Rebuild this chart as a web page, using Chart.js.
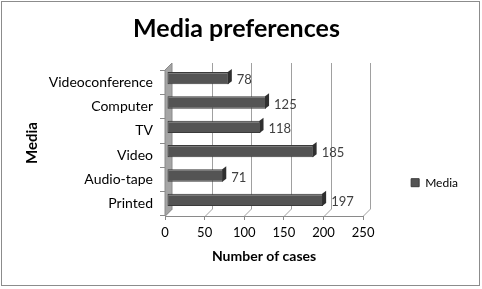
<!DOCTYPE html>
<html><head><meta charset="utf-8">
<script src="https://cdn.jsdelivr.net/npm/chart.js@4.4.1/dist/chart.umd.min.js"></script>
<style>html,body{margin:0;padding:0;background:#fff}#wrap{width:482px;height:289px}</style>
</head><body><div id="wrap"><canvas id="c" width="482" height="289"></canvas></div>
<script>
const categories = ['Printed', 'Audio-tape', 'Video', 'TV', 'Computer', 'Videoconference'];
const mediaCases = [197, 71, 185, 118, 125, 78];
const xTicks = [0, 50, 100, 150, 200, 250];

const FONT = 'Lato';
const D = 7; // depth of the fake 3D plot
const BX = 2, BY = -4; // bars sit mid-depth

const depth3d = {
  id: 'depth3d',
  beforeDraw(chart) {
    const c = chart.ctx;
    c.save();
    c.fillStyle = '#fff';
    c.fillRect(0, 0, chart.width, chart.height);
    c.strokeStyle = '#8c8c8c';
    c.lineWidth = 1;
    c.strokeRect(1.5, 1.5, chart.width - 4, chart.height - 5);
    c.restore();
  },
  beforeDatasetsDraw(chart) {
    const c = chart.ctx, a = chart.chartArea, xs = chart.scales.x;
    c.save();
    // left wall
    c.fillStyle = '#a5a5a5';
    c.beginPath();
    c.moveTo(a.left, a.top);
    c.lineTo(a.left + D, a.top - D);
    c.lineTo(a.left + D, a.bottom - D);
    c.lineTo(a.left, a.bottom);
    c.closePath();
    c.fill();
    c.strokeStyle = '#8a8a8a';
    c.stroke();
    // back gridlines and floor lines
    c.strokeStyle = '#a0a0a0';
    c.lineWidth = 1;
    xTicks.forEach(v => {
      const x = Math.round(xs.getPixelForValue(v)) + 0.5;
      c.beginPath();
      if (v > 0) {
        c.moveTo(x + D, a.top - D);
        c.lineTo(x + D, a.bottom - D);
      } else {
        c.moveTo(x + D, a.bottom - D);
      }
      c.lineTo(x, a.bottom);
      c.stroke();
    });
    c.restore();
  },
  beforeDatasetDraw(chart) {
    chart.ctx.save();
    chart.ctx.translate(BX, BY);
  },
  afterDatasetDraw(chart) {
    chart.ctx.restore();
  },
  afterDatasetsDraw(chart) {
    const c = chart.ctx;
    const meta = chart.getDatasetMeta(0);
    c.save();
    c.translate(BX, BY);
    c.font = '13px ' + FONT;
    c.textBaseline = 'middle';
    meta.data.forEach((bar, i) => {
      const h = bar.height;
      // light top edge
      c.strokeStyle = '#7a7a7a';
      c.lineWidth = 1;
      c.beginPath();
      c.moveTo(bar.base + 1, Math.round(bar.y - h / 2) + 1.5);
      c.lineTo(bar.x - 1, Math.round(bar.y - h / 2) + 1.5);
      c.stroke();
      // dark end cap
      c.fillStyle = '#2f2f2f';
      c.beginPath();
      c.moveTo(bar.x - 1, bar.y - h / 2);
      c.lineTo(bar.x + 3, bar.y - h / 2 - 3);
      c.lineTo(bar.x + 3, bar.y + h / 2 - 3);
      c.lineTo(bar.x - 1, bar.y + h / 2);
      c.closePath();
      c.fill();
      c.fillStyle = '#404040';
      c.fillText(String(mediaCases[i]), bar.x + 8, bar.y + 2);
    });
    c.restore();
  }
};

new Chart(document.getElementById('c'), {
  type: 'bar',
  data: {
    labels: categories,
    datasets: [{
      label: 'Media',
      data: mediaCases,
      backgroundColor: '#545454',
      borderColor: '#3a3a3a',
      borderWidth: 1,
      borderSkipped: false,
      categoryPercentage: 0.7,
      barPercentage: 0.72
    }]
  },
  plugins: [depth3d],
  options: {
    indexAxis: 'y',
    responsive: false,
    animation: false,
    layout: { padding: { left: 5, right: 14, top: 0, bottom: 0 } },
    scales: {
      x: {
        min: 0, max: 250,
        afterBuildTicks: s => { s.ticks = xTicks.map(v => ({ value: v })); },
        afterFit: s => { s.height = 73; },
        grid: { display: true, drawOnChartArea: false, tickLength: 4, color: '#8a8a8a' },
        border: { display: true, color: '#8a8a8a' },
        ticks: { color: '#000', font: { family: FONT, size: 13 }, padding: 5 },
        title: { display: true, text: 'Number of cases', color: '#000', font: { family: FONT, size: 14, weight: 'bold' }, padding: { top: 0, bottom: 24 } }
      },
      y: {
        reverse: true,
        afterFit: s => { s.width = 160; },
        grid: { display: true, drawOnChartArea: false, tickLength: 5, color: '#8a8a8a' },
        border: { display: true, color: '#8a8a8a' },
        ticks: { color: '#000', font: { family: FONT, size: 14 }, padding: 7 },
        title: { display: true, text: 'Media', color: '#000', font: { family: FONT, size: 15, weight: 'bold' }, padding: { top: 18, bottom: 4 } }
      },
      gap: {
        type: 'linear',
        axis: 'y',
        position: 'right',
        display: true,
        afterFit: s => { s.width = 40; },
        grid: { display: false },
        border: { display: false },
        ticks: { display: false }
      }
    },
    plugins: {
      title: { display: true, text: 'Media preferences', color: '#000', font: { family: FONT, size: 25, weight: 'bold' }, padding: { top: 14, bottom: 26 } },
      legend: {
        position: 'right',
        title: { display: true, text: ' ', padding: { top: 62, bottom: 0 } },
        labels: { boxWidth: 8, boxHeight: 8, color: '#000', font: { family: FONT, size: 12 }, padding: 8 }
      },
      tooltip: { enabled: false }
    }
  }
});
</script>
</body></html>
